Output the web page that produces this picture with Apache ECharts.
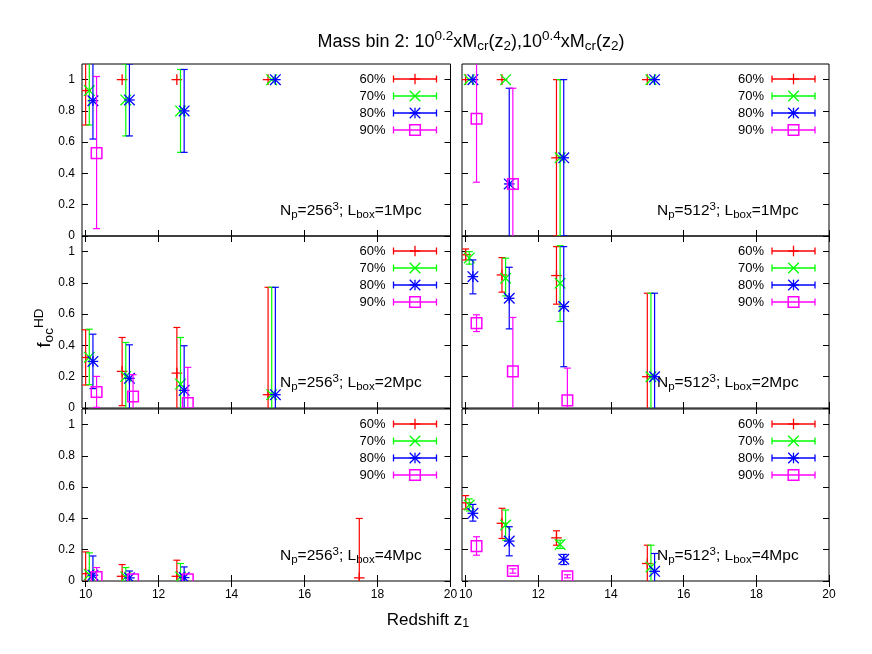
<!DOCTYPE html>
<html><head><meta charset="utf-8">
<script src="https://cdn.jsdelivr.net/npm/echarts@6/dist/echarts.min.js"></script>
<style>html,body{margin:0;padding:0;background:#fff}#c{width:872px;height:654px}</style>
</head><body><div id="c"></div>
<script>
// ---------- data: [redshift z1, f_oc, lower, upper] ----------
const seriesNames = ['60%', '70%', '80%', '90%'];
const seriesColors = ['#ff0000', '#00ff00', '#0000ff', '#ff00ff'];
const xTicks = [10, 12, 14, 16, 18, 20];
const yTicks = [0, 0.2, 0.4, 0.6, 0.8, 1];

// Np=256^3, Lbox=1Mpc
const p256_1_60 = [[10.0, 0.93, 0.71, 1.15], [11.0, 1.0, 1.0, 1.0], [12.5, 1.0, 1.0, 1.0], [15.0, 1.0, 1.0, 1.0]];
const p256_1_70 = [[10.1, 0.93, 0.71, 1.15], [11.1, 0.87, 0.64, 1.10], [12.6, 0.80, 0.535, 1.065], [15.1, 1.0, 1.0, 1.0]];
const p256_1_80 = [[10.2, 0.865, 0.62, 1.11], [11.2, 0.87, 0.64, 1.10], [12.7, 0.80, 0.535, 1.065], [15.2, 1.0, 1.0, 1.0]];
const p256_1_90 = [[10.3, 0.53, 0.047, 1.02]];
// Np=512^3, Lbox=1Mpc
const p512_1_60 = [[10.0, 1.0, 1.0, 1.0], [11.0, 1.0, 1.0, 1.0], [12.5, 0.5, 0.0, 1.0], [15.0, 1.0, 1.0, 1.0]];
const p512_1_70 = [[10.1, 1.0, 1.0, 1.0], [11.1, 1.0, 1.0, 1.0], [12.6, 0.5, 0.0, 1.0], [15.1, 1.0, 1.0, 1.0]];
const p512_1_80 = [[10.2, 1.0, 1.0, 1.0], [11.2, 0.333, -0.28, 0.945], [12.7, 0.5, 0.0, 1.0], [15.2, 1.0, 1.0, 1.0]];
const p512_1_90 = [[10.3, 0.75, 0.344, 1.156], [11.3, 0.333, -0.28, 0.945]];
// Np=256^3, Lbox=2Mpc
const p256_2_60 = [[10.0, 0.323, 0.147, 0.50], [11.0, 0.234, 0.015, 0.451], [12.5, 0.223, -0.07, 0.515], [15.0, 0.085, -0.6, 0.772]];
const p256_2_70 = [[10.1, 0.325, 0.149, 0.504], [11.1, 0.202, -0.015, 0.419], [12.6, 0.153, -0.145, 0.451], [15.1, 0.085, -0.6, 0.772]];
const p256_2_80 = [[10.2, 0.298, 0.124, 0.472], [11.2, 0.19, -0.02, 0.404], [12.7, 0.113, -0.17, 0.398], [15.2, 0.085, -0.6, 0.772]];
const p256_2_90 = [[10.3, 0.102, 0.004, 0.202], [11.3, 0.074, -0.065, 0.213], [12.8, 0.032, -0.2, 0.26]];
// Np=512^3, Lbox=2Mpc
const p512_2_60 = [[10.0, 0.98, 0.947, 1.017], [11.0, 0.851, 0.741, 0.962], [12.5, 0.847, 0.664, 1.032], [15.0, 0.2, -0.335, 0.734]];
const p512_2_70 = [[10.1, 0.96, 0.92, 1.0], [11.1, 0.83, 0.717, 0.958], [12.6, 0.798, 0.553, 1.038], [15.1, 0.2, -0.335, 0.734]];
const p512_2_80 = [[10.2, 0.84, 0.73, 0.947], [11.2, 0.702, 0.506, 0.90], [12.7, 0.649, 0.264, 1.032], [15.2, 0.2, -0.335, 0.734]];
const p512_2_90 = [[10.3, 0.543, 0.489, 0.596], [11.3, 0.234, -0.11, 0.579], [12.8, 0.049, -0.16, 0.255]];
// Np=256^3, Lbox=4Mpc
const p256_4_60 = [[10.0, 0.047, -0.09, 0.186], [11.0, 0.03, -0.045, 0.105], [12.5, 0.03, -0.07, 0.133], [17.5, 0.02, -0.36, 0.40]];
const p256_4_70 = [[10.1, 0.041, -0.1, 0.18], [11.1, 0.026, -0.03, 0.086], [12.6, 0.026, -0.06, 0.112]];
const p256_4_80 = [[10.2, 0.037, -0.09, 0.16], [11.2, 0.02, -0.02, 0.064], [12.7, 0.022, -0.045, 0.09]];
const p256_4_90 = [[10.3, 0.026, -0.03, 0.086], [11.3, 0.011, 0.011, 0.011], [12.8, 0.011, 0.011, 0.011]];
// Np=512^3, Lbox=4Mpc
const p512_4_60 = [[10.0, 0.50, 0.46, 0.546], [11.0, 0.369, 0.272, 0.465], [12.5, 0.276, 0.229, 0.321], [15.0, 0.112, -0.005, 0.229]];
const p512_4_70 = [[10.1, 0.486, 0.448, 0.525], [11.1, 0.358, 0.261, 0.454], [12.6, 0.234, 0.208, 0.261], [15.1, 0.09, -0.05, 0.229]];
const p512_4_80 = [[10.2, 0.433, 0.383, 0.49], [11.2, 0.255, 0.161, 0.347], [12.7, 0.139, 0.105, 0.17], [15.2, 0.062, -0.05, 0.176]];
const p512_4_90 = [[10.3, 0.223, 0.165, 0.283], [11.3, 0.064, 0.05, 0.078], [12.8, 0.03, 0.02, 0.04]];

const panelLabels = [
  'N{sub|p}=256{sup|3}; L{sub|box}=1Mpc', 'N{sub|p}=512{sup|3}; L{sub|box}=1Mpc',
  'N{sub|p}=256{sup|3}; L{sub|box}=2Mpc', 'N{sub|p}=512{sup|3}; L{sub|box}=2Mpc',
  'N{sub|p}=256{sup|3}; L{sub|box}=4Mpc', 'N{sub|p}=512{sup|3}; L{sub|box}=4Mpc'
];
const panelData = [
  [p256_1_60, p256_1_70, p256_1_80, p256_1_90],
  [p512_1_60, p512_1_70, p512_1_80, p512_1_90],
  [p256_2_60, p256_2_70, p256_2_80, p256_2_90],
  [p512_2_60, p512_2_70, p512_2_80, p512_2_90],
  [p256_4_60, p256_4_70, p256_4_80, p256_4_90],
  [p512_4_60, p512_4_70, p512_4_80, p512_4_90]
];

// ---------- layout / style ----------
const FF = 'Liberation Sans, Arial, Helvetica, sans-serif';
const colLeft = [82, 462], colWidth = [368.5, 367];
const rowTop = [64, 236, 409], rowH = 172;
const MS = 5.3, CAP = 3.5;

function L(x1, y1, x2, y2, color, w) {
  return { type: 'line', silent: true, shape: { x1, y1, x2, y2 }, style: { stroke: color, lineWidth: w } };
}
function markerEls(kind, cx, cy, color) {
  const w = 1.3;
  if (kind === 0) return [L(cx - MS, cy, cx + MS, cy, color, w), L(cx, cy - MS, cx, cy + MS, color, w)];
  if (kind === 1) return [L(cx - MS, cy - MS, cx + MS, cy + MS, color, w), L(cx - MS, cy + MS, cx + MS, cy - MS, color, w)];
  if (kind === 2) return [L(cx - MS, cy, cx + MS, cy, color, w), L(cx, cy - MS, cx, cy + MS, color, w),
    L(cx - MS, cy - MS, cx + MS, cy + MS, color, w), L(cx - MS, cy + MS, cx + MS, cy - MS, color, w)];
  return [{ type: 'rect', silent: true, shape: { x: cx - MS, y: cy - MS, width: 2 * MS, height: 2 * MS },
    style: { fill: 'none', stroke: color, lineWidth: 1.5 } }];
}
function makeRender(kind, color) {
  return function (params, api) {
    const z = api.value(0), f = api.value(1), lo = api.value(2), hi = api.value(3);
    const c = api.coord([z, f]), a = api.coord([z, lo]), b = api.coord([z, hi]);
    const els = [];
    if (hi > lo) {
      els.push(L(c[0], a[1], c[0], b[1], color, 1.2));
      els.push(L(c[0] - CAP, a[1], c[0] + CAP, a[1], color, 1.2));
      els.push(L(c[0] - CAP, b[1], c[0] + CAP, b[1], color, 1.2));
    }
    els.push(...markerEls(kind, c[0], c[1], color));
    return { type: 'group', children: els };
  };
}

const grids = [], xAxes = [], yAxes = [], series = [], graphics = [];
const subRich = (fs, sfs) => ({
  sub: { fontSize: sfs, fontFamily: FF, fill: '#000', padding: [Math.round(sfs * 0.6), 0, 0, 0] },
  sup: { fontSize: sfs, fontFamily: FF, fill: '#000', padding: [0, 0, Math.round(sfs * 0.8), 0] }
});

for (let i = 0; i < 6; i++) {
  const row = Math.floor(i / 2), col = i % 2;
  const left = colLeft[col], top = rowTop[row], width = colWidth[col];
  grids.push({ left, top, width, height: rowH, show: true, borderColor: '#000', borderWidth: 1, backgroundColor: 'transparent' });
  const tickCommon = { show: true, inside: true, length: 6, lineStyle: { color: '#000', width: 1 } };
  xAxes.push({ type: 'value', gridIndex: i, min: 9.9, max: 20, position: 'bottom',
    axisLine: { show: false }, splitLine: { show: false },
    axisTick: Object.assign({ customValues: xTicks }, tickCommon),
    axisLabel: { show: row === 2, customValues: xTicks, margin: 8, fontSize: 12, color: '#000', fontFamily: FF } });
  xAxes.push({ type: 'value', gridIndex: i, min: 9.9, max: 20, position: 'top',
    axisLine: { show: false }, splitLine: { show: false },
    axisTick: Object.assign({ customValues: xTicks }, tickCommon),
    axisLabel: { show: false, customValues: xTicks } });
  yAxes.push({ type: 'value', gridIndex: i, min: 0, max: 1.1, position: 'left',
    axisLine: { show: false }, splitLine: { show: false },
    axisTick: Object.assign({ customValues: yTicks }, tickCommon),
    axisLabel: { show: col === 0, customValues: yTicks, margin: 7, fontSize: 12, color: '#000', fontFamily: FF,
      formatter: v => String(v) } });
  yAxes.push({ type: 'value', gridIndex: i, min: 0, max: 1.1, position: 'right',
    axisLine: { show: false }, splitLine: { show: false },
    axisTick: Object.assign({ customValues: yTicks }, tickCommon),
    axisLabel: { show: false, customValues: yTicks } });

  for (let s = 0; s < 4; s++) {
    series.push({ type: 'custom', name: seriesNames[s], xAxisIndex: 2 * i, yAxisIndex: 2 * i,
      clip: true, silent: true, animation: false,
      dimensions: ['z', 'f', 'lo', 'hi'], encode: { x: 0, y: 1 },
      data: panelData[i][s], renderItem: makeRender(s, seriesColors[s]) });
    // legend row
    const yr = top + 15 + 17 * s;
    const x2 = left + width - 14, x1 = x2 - 43;
    graphics.push({ type: 'text', silent: true, x: x1 - 8, y: yr,
      style: { text: seriesNames[s], fontSize: 13, fontFamily: FF, fill: '#000',
        align: 'right', verticalAlign: 'middle', textAlign: 'right', textVerticalAlign: 'middle' } });
    graphics.push(L(x1, yr, x2, yr, seriesColors[s], 1.3));
    graphics.push(L(x1, yr - CAP, x1, yr + CAP, seriesColors[s], 1.3));
    graphics.push(L(x2, yr - CAP, x2, yr + CAP, seriesColors[s], 1.3));
    graphics.push(...markerEls(s, (x1 + x2) / 2, yr, seriesColors[s]));
  }
  // panel annotation
  graphics.push({ type: 'text', silent: true, x: col === 0 ? 280 : 657, y: top + rowH - 25,
    style: { text: panelLabels[i], fontSize: 15.5, fontFamily: FF, fill: '#000', rich: subRich(15.5, 11.5),
      align: 'left', verticalAlign: 'middle', textAlign: 'left', textVerticalAlign: 'middle' } });
}

// title and axis titles
graphics.push({ type: 'text', silent: true, x: 471, y: 42,
  style: { text: 'Mass bin 2: 10{sup|0.2}xM{sub|cr}(z{sub|2}),10{sup|0.4}xM{sub|cr}(z{sub|2})',
    fontSize: 18, fontFamily: FF, fill: '#000', rich: subRich(18, 13.5),
    align: 'center', verticalAlign: 'middle', textAlign: 'center', textVerticalAlign: 'middle' } });
graphics.push({ type: 'text', silent: true, x: 428, y: 620,
  style: { text: 'Redshift z{sub|1}', fontSize: 17, fontFamily: FF, fill: '#000', rich: subRich(17, 12.5),
    align: 'center', verticalAlign: 'middle', textAlign: 'center', textVerticalAlign: 'middle' } });
graphics.push({ type: 'text', silent: true, x: 45, y: 328, rotation: Math.PI / 2,
  style: { text: 'f{sub|oc}{sup|HD}', fontSize: 18, fontFamily: FF, fill: '#000', rich: subRich(18, 13.5),
    align: 'center', verticalAlign: 'middle', textAlign: 'center', textVerticalAlign: 'middle' } });

const chart = echarts.init(document.getElementById('c'), null, { renderer: 'canvas' });
chart.setOption({
  animation: false,
  backgroundColor: '#fff',
  grid: grids, xAxis: xAxes, yAxis: yAxes, series,
  graphic: { elements: graphics }
});
</script></body></html>
